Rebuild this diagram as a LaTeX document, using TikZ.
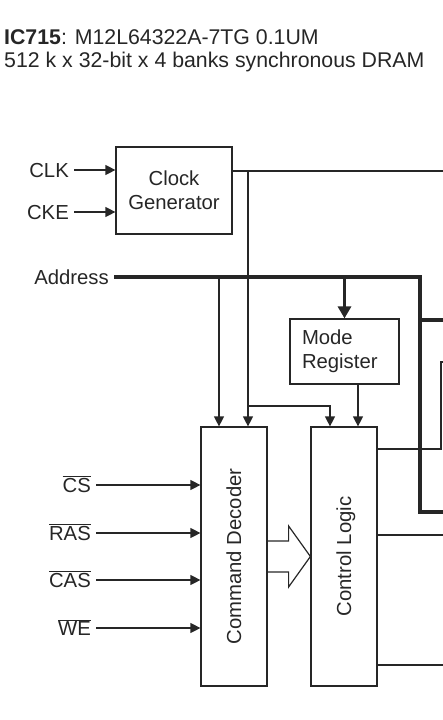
\documentclass[tikz,border=0pt]{standalone}
\usepackage{fontspec}
\setmainfont{Liberation Sans}
\usepackage{tikz}
\usetikzlibrary{arrows.meta, positioning, calc}
\definecolor{ink}{HTML}{262626}
\tikzset{
  blockB/.style={rectangle, draw=ink, line width=1.2pt, inner sep=0pt,
                 font=\fontsize{20.3}{24}\selectfont, text=ink},
  pinL/.style={inner ysep=0pt, inner xsep=5pt, text height=14.3pt, text depth=0pt,
               font=\fontsize{20.3}{24}\selectfont, text=ink},
  headT/.style={anchor=base west, inner sep=0pt,
                font=\fontsize{21.3}{24}\selectfont, text=ink},
  wire/.style={draw=ink, line width=1.2pt},
  wireA/.style={wire, -{Triangle[length=10pt,width=10pt]}},
  bus/.style={draw=ink, line width=3.5pt},
  busA/.style={bus, -{Triangle[length=12pt,width=13pt]}},
}

\begin{document}
\begin{tikzpicture}[x=1pt,y=-1pt]
    \useasboundingbox (0,0) rectangle (443,720);
    %% title
    \node[headT] (title) at (4,44) {\textbf{IC715}: M12L64322A-7TG 0.1UM};
    \node[headT] (subtitle) at (4,67) {512 k x 32-bit x 4 banks synchronous DRAM};
    %% blocks
    \node[blockB, minimum width=116pt, minimum height=87pt, align=center]
      (clkgen) at (174,190.5) {Clock\\Generator};
    \node[blockB, minimum width=109pt, minimum height=65pt, text width=85pt, align=left]
      (modereg) at (344.5,351.5) {Mode\\Register};
    \node[blockB, minimum width=66pt, minimum height=259pt,
          label={[pinL,rotate=90]center:Command Decoder}] (cmddec) at (234,556.5) {};
    \node[blockB, minimum width=66pt, minimum height=259pt,
          label={[pinL,rotate=90]center:Control Logic}] (ctrl) at (344,556.5) {};
    %% clock inputs
    \foreach \n/\y/\t in {clk/170/CLK, cke/212/CKE}{
      \node[pinL, anchor=east] (\n) at (74,\y) {\t};
      \draw[wireA] (\n.east) -- (\n.east -| clkgen.west);
    }
    %% command inputs
    \foreach \n/\y/\t in {cs/485/CS, ras/533/RAS, cas/580/CAS, we/628/WE}{
      \node[pinL, anchor=east] (\n) at (96,\y) {$\overline{\hbox{\t}}$};
      \draw[wireA] (\n.east) -- (\n.east -| cmddec.west);
    }
    %% address bus
    \node[pinL, anchor=east] (addr) at (114,277) {Address};
    \coordinate (busR) at (420,277);
    \coordinate (busO1) at (443,320);
    \coordinate (busO2) at (443,512);
    \draw[bus] (addr.east) -- (busR) |- (busO2);
    \draw[bus] (busR |- busO1) -- (busO1);
    \draw[busA] (modereg.north |- addr.east) -- (modereg.north);
    \coordinate (adrtap) at (219,277);
    \draw[wireA] (adrtap) -- (adrtap |- cmddec.north);
    %% clock net
    \coordinate (clkout) at (232,171);
    \coordinate (clkR) at (443,171);
    \draw[wire] (clkout) -- (clkR);
    \coordinate (clktap) at (248,171);
    \coordinate (clkbend) at (248,406);
    \draw[wireA] (clktap) -- (clktap |- cmddec.north);
    \draw[wireA] (clkbend) -| ([xshift=-14pt]ctrl.north);
    \draw[wireA] ([xshift=13.5pt]modereg.south) -- ([xshift=13.5pt]modereg.south |- ctrl.north);
    %% decoder to control logic
    \draw[wire, line join=miter] ($(cmddec.east)+(0,-15.5)$) -- ++(21,0) -- ++(0,-15)
      -- (ctrl.west) -- ($(cmddec.east)+(21,30.5)$) -- ++(0,-15) -- ++(-21,0);
    %% control logic outputs
    \coordinate (ctlO1) at (443,362);
    \draw[wire] (ctrl.east |- 0,449) -| (441,362) -- (ctlO1);
    \foreach \y in {535,665}{
      \coordinate (ctlO\y) at (443,\y);
      \draw[wire] (ctrl.east |- ctlO\y) -- (ctlO\y);
    }
  \end{tikzpicture}
\end{document}
